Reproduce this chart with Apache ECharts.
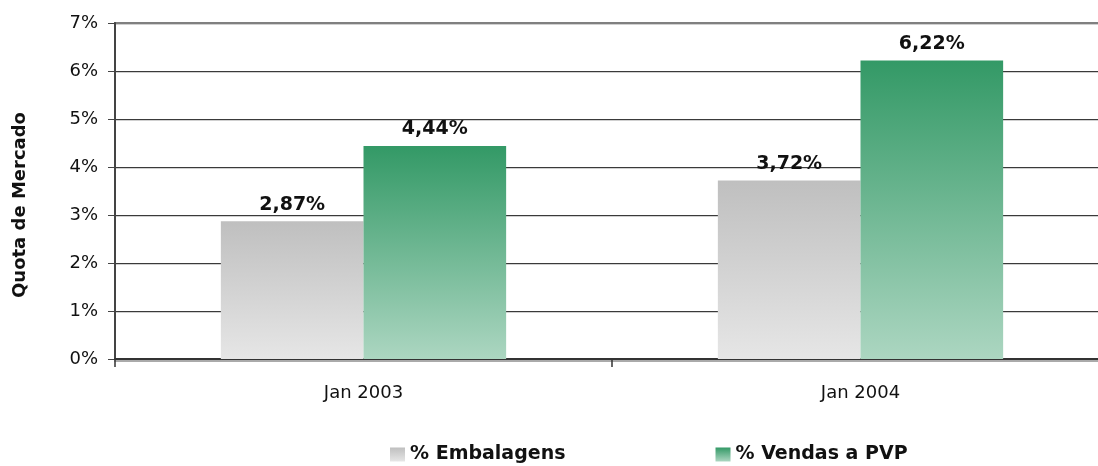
<!DOCTYPE html>
<html>
<head>
<meta charset="utf-8">
<script src="https://cdn.jsdelivr.net/npm/echarts@6/dist/echarts.min.js"></script>
<style>html,body{margin:0;padding:0;background:#fff;overflow:hidden;width:1098px;height:466px;}#c{width:1109px;height:466px;}</style>
</head>
<body>
<div id="c"></div>
<script>
var categories = ['Jan 2003', 'Jan 2004'];
var seriesNames = ['% Embalagens', '% Vendas a PVP'];
var embalagens = [2.87, 3.72];
var vendasPVP = [4.44, 6.22];
var yTicks = [0, 1, 2, 3, 4, 5, 6, 7];
var yAxisTitle = 'Quota de Mercado';

var FONT = 'DejaVu Sans';
var chart = echarts.init(document.getElementById('c'));
function grad(top, bottom) {
  return new echarts.graphic.LinearGradient(0, 0, 0, 1, [
    {offset: 0, color: top}, {offset: 1, color: bottom}
  ]);
}
function fmt(v) { return v.toFixed(2).replace('.', ',') + '%'; }
var labelCfg = {
  show: true, position: 'top', distance: 7,
  fontFamily: FONT, fontWeight: 'bold', fontSize: 19, color: '#111',
  formatter: function (p) { return fmt(p.value); }
};
var splitColors = yTicks.map(function (t, i) { return i === yTicks.length - 1 ? '#808080' : '#3a3a3a'; });
chart.setOption({
  animation: false,
  grid: {left: 115, top: 23, bottom: 107, right: 0, show: true, borderColor: '#808080', borderWidth: 2},
  legend: {
    left: 385, top: 440, itemWidth: 15, itemHeight: 14, itemGap: 150, icon: 'rect',
    textStyle: {fontFamily: FONT, fontWeight: 'bold', fontSize: 19, color: '#111'},
    data: seriesNames
  },
  graphic: [{
    type: 'text', x: 20, y: 205, rotation: Math.PI / 2,
    style: {text: yAxisTitle, fontFamily: FONT, fontWeight: 'bold', fontSize: 18, fill: '#111', align: 'center', verticalAlign: 'middle'}
  }],
  xAxis: {
    type: 'category', data: categories,
    axisLine: {lineStyle: {color: '#333', width: 2, shadowColor: '#aaa', shadowOffsetY: 2}},
    axisTick: {show: true, length: 8, alignWithLabel: false, lineStyle: {color: '#333', width: 1.5}},
    axisLabel: {margin: 25, fontFamily: FONT, fontSize: 18, color: '#111'}
  },
  yAxis: {
    type: 'value', min: yTicks[0], max: yTicks[yTicks.length - 1], interval: 1,
    axisLine: {show: true, lineStyle: {color: '#444', width: 2}},
    axisTick: {show: true, length: 7, lineStyle: {color: '#444'}},
    axisLabel: {margin: 17, fontFamily: FONT, fontSize: 18, color: '#111', formatter: '{value}%'},
    splitLine: {lineStyle: {color: splitColors, width: 1, shadowColor: '#d0d0d0', shadowOffsetY: 1}}
  },
  series: [
    {name: seriesNames[0], type: 'bar', data: embalagens, barGap: '0%', barCategoryGap: '42.6%',
     itemStyle: {color: grad('#bfbfbf', '#e6e6e6')}, label: labelCfg},
    {name: seriesNames[1], type: 'bar', data: vendasPVP,
     itemStyle: {color: grad('#339966', '#acd6c1')}, label: labelCfg}
  ]
});
</script>
</body>
</html>
